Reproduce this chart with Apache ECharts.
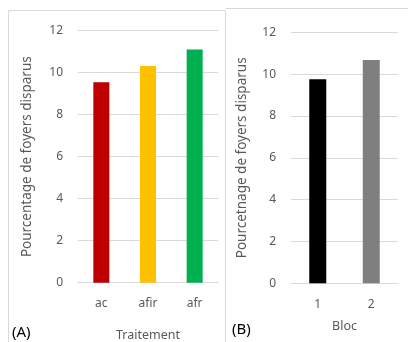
<!DOCTYPE html>
<html><head><meta charset="utf-8">
<script src="https://cdn.jsdelivr.net/npm/echarts@6/dist/echarts.min.js"></script>
<style>html,body{margin:0;padding:0;background:#fff}#c{width:408px;height:342px}</style>
</head><body><div id="c"></div>
<script>
const catsA = ['ac', 'afir', 'afr'];
const valsA = [9.55, 10.32, 11.1];
const colorsA = ['#c00000', '#ffc000', '#00b050'];
const catsB = ['1', '2'];
const valsB = [9.75, 10.68];
const colorsB = ['#000000', '#7f7f7f'];
const yTitleA = 'Pourcentage de foyers disparus';
const yTitleB = 'Pourcetnage de foyers disparus';
const xTitleA = 'Traitement';
const xTitleB = 'Bloc';

const FONT = 'Noto Sans';
const TXT = '#595959';
const GRIDC = '#d9d9d9';

function yAxis(idx, name, gap) {
  return {
    gridIndex: idx, type: 'value', min: 0, max: 12, interval: 2,
    name: name, nameLocation: 'middle', nameGap: gap,
    nameTextStyle: {color: TXT, fontFamily: FONT, fontSize: 13.5},
    axisLine: {show: false}, axisTick: {show: false},
    axisLabel: {color: TXT, fontFamily: FONT, fontSize: 12, margin: 15},
    splitLine: {lineStyle: {color: GRIDC, width: 1}}
  };
}
function xAxis(idx, cats, name, gap) {
  return {
    gridIndex: idx, type: 'category', data: cats,
    name: name, nameLocation: 'middle', nameGap: gap,
    nameTextStyle: {color: TXT, fontFamily: FONT, fontSize: 12.5},
    axisLine: {lineStyle: {color: GRIDC}}, axisTick: {show: false},
    axisLabel: {color: TXT, fontFamily: FONT, fontSize: 12, margin: 15}
  };
}

const chart = echarts.init(document.getElementById('c'), null, {renderer: 'canvas'});
chart.setOption({
  animation: false,
  backgroundColor: '#fff',
  grid: [
    {left: 78, right: 190, top: 30.7, bottom: 59.3, containLabel: false, outerBoundsMode: 'none'},
    {left: 291, right: 10, top: 32.3, bottom: 58.7, containLabel: false, outerBoundsMode: 'none'}
  ],
  xAxis: [xAxis(0, catsA, xTitleA, 46), xAxis(1, catsB, xTitleB, 37)],
  yAxis: [yAxis(0, yTitleA, 44), yAxis(1, yTitleB, 42)],
  series: [
    {type: 'bar', xAxisIndex: 0, yAxisIndex: 0, barWidth: 16,
     data: valsA.map((v, i) => ({value: v, itemStyle: {color: colorsA[i]}}))},
    {type: 'bar', xAxisIndex: 1, yAxisIndex: 1, barWidth: 17,
     data: valsB.map((v, i) => ({value: v, itemStyle: {color: colorsB[i]}}))}
  ],
  graphic: [
    {type: 'polyline', shape: {points: [[8.5, 350], [8.5, 10.5], [225.5, 10.5], [225.5, 350]]},
     style: {stroke: GRIDC, fill: null, lineWidth: 1}},
    {type: 'polyline', shape: {points: [[225.5, 8.5], [420, 8.5]]},
     style: {stroke: GRIDC, fill: null, lineWidth: 1}},
    {type: 'text', left: 12, top: 325, style: {text: '(A)', fill: '#000', font: '15px "Noto Sans"'}},
    {type: 'text', left: 232, top: 322, style: {text: '(B)', fill: '#000', font: '15px "Noto Sans"'}}
  ]
});
</script></body></html>
